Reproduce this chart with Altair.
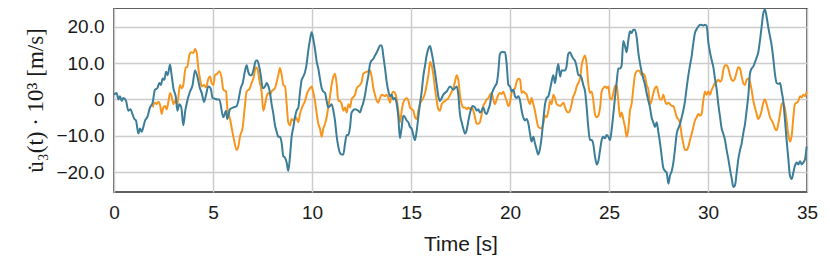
import altair as alt
import pandas as pd

# (time [s], value) samples
TEAL = [
(0.00,1.3),(0.13,1.8),(0.22,0.0),(0.30,0.9),(0.39,-0.4),(0.47,0.4),(0.61,-0.4),(0.72,-3.1),(0.84,-2.7),(0.93,-4.0),(1.03,-5.4),(1.11,-5.8),(1.23,-9.4),(1.31,-8.0),(1.40,-8.9),(1.48,-7.6),(1.57,-5.8),(1.68,-4.9),(1.82,-2.2),(1.95,-0.9),(2.07,2.7),(2.19,3.1),(2.29,4.5),(2.37,4.0),(2.46,5.8),(2.54,5.4),(2.63,7.6),(2.71,6.7),(2.83,9.6),(2.91,6.7),(3.00,3.1),(3.13,0.4),(3.20,-3.1),(3.30,-1.3),(3.40,-2.2),(3.50,-7.1),(3.60,-3.1),(3.70,-0.4),(3.84,2.2),(3.97,4.0),(4.09,8.0),(4.21,6.3),(4.34,3.1),(4.43,1.8),(4.55,-0.7),(4.65,1.3),(4.76,3.6),(4.88,3.1),(4.98,0.4),(5.10,0.2),(5.22,0.0),(5.32,0.0),
(5.52,-4.9),(5.66,-3.1),(5.72,-5.4),(5.86,-2.7),(6.03,-2.2),(6.20,-1.8),(6.28,-0.4),(6.40,3.1),(6.50,4.5),(6.62,8.0),(6.70,9.4),(6.78,7.6),(6.87,6.7),(6.95,6.7),(7.04,8.0),(7.17,10.7),(7.24,10.7),(7.34,8.9),(7.41,6.7),(7.51,3.1),(7.63,3.6),(7.71,4.5),(7.80,3.6),(7.88,1.8),(7.96,-1.3),(8.05,-4.0),(8.13,-7.1),(8.22,-8.9),(8.30,-10.3),(8.38,-10.3),(8.47,-12.1),(8.55,-15.6),(8.64,-16.1),(8.72,-17.4),(8.80,-19.7),(8.89,-15.6),(8.97,-10.3),(9.06,-7.6),(9.14,-4.9),(9.22,-3.1),(9.31,-2.2),(9.39,1.8),(9.48,5.4),(9.56,6.3),(9.65,7.6),(9.73,9.8),(9.81,13.4),(9.90,16.5),(9.98,18.5),(10.07,16.5),(10.15,13.9),(10.24,10.3),(10.32,8.5),(10.40,5.8),(10.49,3.1),(10.57,2.2),(10.66,1.8),(10.74,-0.4),(10.82,-2.2),(10.91,-1.8),(10.99,-1.3),(11.08,-3.1),(11.16,-5.8),(11.25,-10.3),(11.33,-13.0),
(11.41,-14.7),(11.50,-15.2),(11.58,-15.2),(11.67,-12.1),(11.75,-9.8),(11.84,-9.8),(11.92,-7.6),(12.00,-3.6),(12.17,-2.7),(12.34,-3.1),(12.42,-3.6),(12.51,-2.2),(12.59,-0.9),(12.68,1.3),(12.76,4.0),(12.85,6.7),(12.93,9.8),(13.01,10.7),(13.10,11.2),(13.18,12.1),(13.27,13.0),(13.35,13.9),(13.43,14.9),(13.52,14.9),(13.60,12.1),(13.69,8.5),(13.77,4.9),(13.86,2.2),(13.94,0.9),(14.02,1.3),(14.11,0.0),(14.19,0.4),(14.28,-1.3),(14.36,-4.9),(14.44,-10.7),(14.53,-7.6),(14.61,-4.5),(14.70,-4.9),(14.78,-5.8),(14.87,-6.3),(14.95,-7.6),(15.03,-8.0),(15.12,-9.8),(15.20,-11.2),(15.29,-8.5),(15.37,-4.9),(15.45,-1.3),(15.54,2.2),(15.62,6.3),(15.71,9.4),(15.79,12.1),(15.88,14.0),(15.96,14.7),(16.04,13.0),(16.13,10.3),(16.21,7.6),(16.30,4.0),(16.38,0.9),(16.46,-0.4),(16.55,0.4),(16.63,1.3),(16.72,1.8),(16.80,2.2),(16.97,3.6),(17.14,2.7),(17.31,3.6),(17.39,1.3),(17.47,-4.0),(17.56,-6.3),(17.64,-8.0),(17.73,-9.4),
(17.81,-8.5),(17.90,-5.8),(18.01,-3.1),(18.11,-1.8),(18.23,-2.2),(18.32,-3.1),(18.40,-2.7),(18.48,-3.6),(18.57,-3.1),(18.65,-2.2),(18.74,-3.6),(18.82,-4.0),(18.91,-2.7),(18.99,-1.3),(19.07,1.3),(19.16,2.7),(19.24,3.6),(19.33,4.5),(19.41,7.6),(19.49,12.5),(19.58,13.1),(19.75,13.0),(19.83,9.8),(19.92,4.0),(20.00,3.6),(20.08,2.2),(20.17,2.7),(20.25,0.9),(20.34,0.4),(20.42,0.9),(20.51,-0.4),(20.59,-3.1),(20.67,-4.9),(20.76,-5.8),(20.84,-5.4),(20.93,-6.7),(21.01,-9.4),(21.09,-11.6),(21.18,-10.3),(21.26,-12.1),(21.35,-13.9),(21.43,-15.2),(21.52,-13.4),(21.60,-10.3),(21.68,-5.8),(21.77,-1.3),(21.85,0.4),(21.94,0.9),(22.02,2.7),(22.10,4.9),(22.19,6.7),(22.27,4.5),(22.36,7.6),(22.44,9.8),(22.53,6.3),(22.61,8.0),(22.78,8.0),(22.85,8.9),(22.94,12.5),(23.03,13.0),(23.11,12.1),(23.20,11.2),(23.28,10.7),(23.37,8.9),(23.45,6.7),(23.54,6.7),(23.62,5.8),(23.70,4.0),(23.79,2.2),(23.87,-2.0),(23.96,-8.0),(24.04,-11.2),
(24.12,-11.2),(24.20,-12.1),(24.29,-15.6),(24.38,-17.9),(24.46,-17.0),(24.55,-13.9),(24.63,-11.2),(24.71,-10.3),(24.80,-10.7),(24.88,-9.8),(24.97,-10.3),(25.05,-11.2),(25.13,-8.5),(25.22,-4.0),(25.30,0.4),(25.39,4.9),(25.47,8.5),(25.56,8.5),(25.64,9.4),(25.72,16.1),(25.81,14.7),(25.89,13.0),(25.98,16.5),(26.06,18.8),(26.14,18.3),(26.23,19.2),(26.31,19.2),(26.40,17.0),(26.48,13.0),(26.57,9.8),(26.65,7.6),(26.73,5.8),(26.82,4.0),(26.90,1.8),(26.99,-0.4),(27.07,-2.2),(27.15,-4.9),(27.24,-6.3),(27.32,-7.6),(27.41,-6.3),(27.49,-8.9),(27.58,-12.1),(27.66,-15.6),(27.74,-18.8),(27.83,-19.7),(27.91,-20.1),(28.00,-23.2),(28.08,-21.0),(28.17,-19.7),(28.25,-17.4),(28.33,-13.9),(28.42,-9.4),(28.50,-8.0),(28.59,-6.7),(28.67,-4.9),(28.75,-3.1),(28.84,-0.4),(28.92,3.1),(29.01,6.7),(29.09,9.4),(29.18,12.1),(29.26,15.6),(29.34,18.3),(29.43,19.4),(29.51,20.1),
(29.60,20.6),(29.76,20.4),(29.85,20.6),(29.93,20.3),(30.02,15.6),(30.10,13.0),(30.19,10.7),(30.27,8.9),(30.35,5.8),(30.44,2.7),(30.52,-1.3),(30.61,-4.9),(30.69,-8.0),(30.77,-9.4),(30.86,-11.2),(30.94,-13.9),(31.03,-16.5),(31.11,-19.2),(31.20,-21.9),(31.28,-24.1),(31.36,-23.7),(31.45,-20.1),(31.53,-16.5),(31.62,-13.9),(31.70,-12.1),(31.78,-9.4),(31.87,-6.7),(31.95,-3.1),(32.04,1.3),(32.12,7.1),(32.20,8.5),(32.29,9.1),(32.37,10.3),(32.46,11.6),(32.54,13.0),(32.63,16.5),(32.71,20.1),(32.79,23.7),(32.88,24.8),(32.96,22.8),(33.05,19.7),(33.13,17.4),(33.22,14.7),(33.30,11.2),(33.38,7.1),(33.47,4.5),(33.55,4.3),(33.64,4.5),(33.72,2.2),(33.80,-0.4),(33.89,-5.8),(33.97,-11.2),(34.06,-16.5),(34.14,-21.0),(34.23,-21.9),(34.31,-20.1),(34.39,-18.3),(34.48,-17.4),(34.56,-17.9),(34.65,-17.0),(34.73,-17.9),(34.81,-17.4),(34.90,-16.5),(34.98,-13.0),
]

ORANGE = [
(1.95,-2.2),(2.07,-0.9),(2.15,-1.3),(2.24,-0.6),(2.32,-1.3),(2.41,-4.0),(2.49,-2.2),(2.58,-1.8),(2.66,-2.7),(2.74,-0.9),(2.83,1.8),(2.91,0.9),(3.00,-1.3),(3.08,-0.4),(3.20,-1.3),(3.33,4.0),(3.42,3.1),(3.50,4.0),(3.62,8.9),(3.70,8.9),(3.80,12.1),(3.89,13.0),(4.01,12.8),(4.09,13.9),(4.18,12.8),(4.26,8.5),(4.34,5.8),(4.43,3.6),(4.55,4.0),(4.65,3.3),(4.76,5.6),(4.85,6.3),(4.93,4.5),(5.02,4.0),(5.10,6.7),(5.22,7.1),(5.32,7.8),
(5.44,5.8),(5.52,2.7),(5.66,2.2),(5.72,-2.2),(5.86,-5.4),(6.03,-10.3),(6.20,-13.9),(6.28,-13.0),(6.36,-10.3),(6.50,-7.6),(6.62,-1.3),(6.70,2.2),(6.84,2.9),(6.95,4.5),(7.04,5.8),(7.17,8.9),(7.24,8.5),(7.34,5.4),(7.46,1.8),(7.54,-3.1),(7.63,-1.3),(7.71,0.9),(7.80,1.8),(7.88,1.3),(7.96,2.2),(8.05,2.7),(8.13,3.1),(8.22,4.9),(8.30,6.7),(8.38,8.7),(8.47,6.7),(8.55,4.0),(8.64,3.6),(8.72,-1.3),(8.80,-6.3),(8.89,-7.1),(8.97,-5.4),(9.06,-5.8),(9.19,-4.9),(9.31,-6.3),(9.39,-4.0),(9.53,-1.8),(9.65,-0.4),(9.76,1.8),(9.90,3.1),(9.98,3.6),(10.07,1.8),(10.15,-0.4),(10.24,-4.0),(10.32,-6.7),(10.40,-8.0),(10.49,-10.3),(10.57,-8.0),(10.66,-6.7),(10.74,-4.9),(10.82,-2.2),(10.91,0.9),(10.99,4.0),(11.08,6.3),(11.16,7.1),(11.25,4.0),(11.33,-0.4),
(11.41,-0.4),(11.50,-1.3),(11.58,-3.1),(11.67,-2.2),(11.75,-3.6),(11.84,-1.3),(11.92,-2.2),(12.00,0.0),(12.17,1.3),(12.26,3.1),(12.42,4.0),(12.51,4.9),(12.59,7.1),(12.76,7.6),(12.93,8.0),(13.01,6.3),(13.10,3.1),(13.18,1.3),(13.27,-0.4),(13.35,-0.9),(13.43,0.4),(13.52,1.3),(13.69,0.9),(13.77,1.3),(13.86,0.4),(13.94,-0.9),(14.02,1.3),(14.11,2.1),(14.19,1.8),(14.28,0.0),(14.36,-3.1),(14.44,-6.3),(14.53,-3.1),(14.61,-0.9),(14.78,0.3),(14.87,-0.4),(14.95,-2.2),(15.12,-3.1),(15.20,-4.9),(15.29,-5.4),(15.37,-3.1),(15.45,-1.3),(15.62,0.4),(15.71,1.8),(15.79,4.0),(15.88,6.7),(15.96,10.3),(16.04,9.4),(16.13,6.7),(16.21,3.1),(16.30,-0.4),(16.38,-2.7),(16.46,-3.1),(16.55,-1.3),(16.72,-0.4),(16.89,0.4),(17.06,2.2),(17.14,3.1),(17.22,4.9),(17.31,6.7),(17.39,5.4),(17.47,1.3),(17.56,-1.3),(17.64,-2.2),
(17.73,-2.2),(17.81,-2.7),(17.90,-2.2),(17.98,-2.7),(18.06,-2.2),(18.15,-3.1),(18.23,-4.9),(18.32,-6.7),(18.40,-6.7),(18.48,-6.3),(18.57,-4.0),(18.65,-1.8),(18.74,-0.9),(18.82,0.0),(18.91,0.4),(18.99,1.3),(19.07,1.8),(19.16,0.0),(19.24,-1.3),(19.33,0.0),(19.41,1.3),(19.49,1.8),(19.58,1.5),(19.66,2.1),(19.75,0.9),(19.83,-0.4),(19.92,-1.8),(20.00,-0.9),(20.08,1.8),(20.17,2.7),(20.25,3.1),(20.34,4.9),(20.42,5.8),(20.51,5.4),(20.59,1.8),(20.67,2.2),(20.76,1.8),(20.84,1.3),(20.93,-0.4),(21.01,-1.3),(21.09,0.4),(21.18,-1.3),(21.26,-3.1),(21.35,-5.8),(21.43,-7.6),(21.60,-8.0),(21.68,-6.7),(21.77,-4.5),(21.85,-4.9),(21.94,-3.1),(22.02,-0.4),(22.10,-1.3),(22.19,1.3),(22.27,0.4),(22.36,-1.3),(22.53,-1.8),(22.70,-0.9),(22.78,-2.2),(22.85,-3.1),(22.94,-3.6),(23.03,-3.1),(23.11,-1.3),(23.20,0.9),(23.28,1.8),(23.37,3.6),(23.45,4.5),(23.54,5.8),(23.62,9.4),(23.70,11.2),(23.79,12.1),(23.87,9.8),(23.96,4.0),(24.04,1.8),
(24.12,2.2),(24.20,0.0),(24.29,-4.0),(24.38,-4.9),(24.46,-4.5),(24.55,-2.2),(24.63,2.2),(24.71,3.1),(24.80,3.6),(24.88,3.1),(24.97,3.6),(25.05,0.4),(25.13,0.0),(25.22,1.8),(25.30,3.6),(25.39,4.0),(25.47,-0.4),(25.56,-4.9),(25.64,-3.6),(25.72,-5.4),(25.81,-7.6),(25.89,-10.3),(25.98,-8.0),(26.06,-3.1),(26.14,-1.3),(26.23,3.1),(26.31,6.7),(26.40,7.8),(26.48,8.0),(26.57,7.6),(26.65,6.7),(26.73,7.1),(26.82,6.3),(26.90,4.0),(26.99,2.7),(27.07,-1.3),(27.15,-0.4),(27.24,1.8),(27.32,3.1),(27.41,3.6),(27.49,1.8),(27.58,0.0),(27.66,0.0),(27.74,1.3),(27.83,-0.4),(27.91,-1.3),(28.00,-0.9),(28.08,-1.3),(28.17,-1.8),(28.25,-1.8),(28.33,-3.1),(28.42,-4.9),(28.50,-5.4),(28.59,-6.7),(28.67,-9.8),(28.75,-12.1),(28.84,-13.9),(28.92,-13.9),(29.01,-13.0),(29.09,-11.2),(29.18,-9.4),(29.26,-7.6),(29.34,-5.8),(29.43,-4.9),(29.51,-4.0),
(29.60,-4.5),(29.68,-4.0),(29.76,-0.4),(29.85,2.2),(29.93,1.3),(30.02,2.2),(30.10,1.3),(30.19,2.7),(30.27,3.6),(30.35,4.5),(30.44,4.9),(30.52,5.4),(30.61,4.9),(30.69,5.4),(30.77,8.0),(30.86,9.4),(30.94,9.4),(31.03,8.5),(31.11,6.7),(31.20,5.4),(31.28,5.1),(31.36,5.8),(31.45,7.6),(31.53,8.9),(31.62,8.5),(31.70,6.3),(31.78,4.5),(31.87,4.0),(31.95,5.4),(32.04,5.8),(32.12,4.9),(32.20,2.7),(32.29,-0.4),(32.37,-2.2),(32.46,-4.0),(32.54,-5.4),(32.63,-4.5),(32.71,-3.1),(32.79,-0.9),(32.88,0.0),(32.96,-1.3),(33.05,-3.1),(33.13,-4.9),(33.22,-5.8),(33.30,-6.7),(33.38,-8.0),(33.47,-8.5),(33.55,-6.7),(33.64,-4.0),(33.72,-1.3),(33.80,-0.9),(33.89,-2.7),(33.97,-5.8),(34.06,-9.8),(34.14,-11.6),(34.23,-9.8),(34.31,-4.9),(34.39,-1.3),(34.48,-0.9),(34.56,-0.4),(34.65,0.9),(34.73,0.6),(34.81,1.3),(34.90,0.9),(34.98,2.1),
]

X_TICKS = [0, 5, 10, 15, 20, 25, 30, 35]
Y_TICKS = [-20, -10, 0, 10, 20]
X_TITLE = "Time [s]"
Y_TITLE = "u\u0307\u2083(t) \u00b7 10\u00b3 [m/s]"
TEAL_COLOR = "#3c7d98"
ORANGE_COLOR = "#f7961f"

teal_df = pd.DataFrame(TEAL, columns=["t", "v"])
orange_df = pd.DataFrame(ORANGE, columns=["t", "v"])

x_enc = alt.X(
    "t:Q",
    scale=alt.Scale(domain=[0, 35], nice=False, zero=False),
    axis=alt.Axis(values=X_TICKS, format="d", title=X_TITLE, labelFlush=False,
                  labelFontSize=19, labelPadding=11, titlePadding=11, titleFontSize=21),
)
y_enc = alt.Y(
    "v:Q",
    scale=alt.Scale(domain=[-25.5, 25.2], nice=False, zero=False),
    axis=alt.Axis(values=Y_TICKS, labelFlush=False,
                  labelExpr="datum.value == 0 ? '0' : format(datum.value, '.1f')",
                  title=Y_TITLE, titleFont="Liberation Serif", titleFontSize=23,
                  labelFontSize=19, labelPadding=10, titlePadding=8),
)

orange_line = alt.Chart(orange_df).mark_line(
    color=ORANGE_COLOR, strokeWidth=2, interpolate="monotone"
).encode(x=x_enc, y=y_enc)

teal_line = alt.Chart(teal_df).mark_line(
    color=TEAL_COLOR, strokeWidth=2, interpolate="monotone"
).encode(x=x_enc, y=y_enc)

chart = (
    alt.layer(orange_line, teal_line)
    .properties(
        width=693,
        height=184,
        autosize=alt.AutoSizeParams(type="none"),
        padding={"left": 106, "top": 0, "right": 15, "bottom": 72},
    )
    .configure_view(stroke="#2b2b2b", strokeWidth=1.5)
    .configure_axis(
        domain=False,
        ticks=False,
        grid=True,
        gridColor="#cccccc",
        gridWidth=1.5,
        labelFont="Liberation Sans",
        labelColor="#1a1a1a",
        titleFont="Liberation Sans",
        titleFontWeight="normal",
        titleColor="#1a1a1a",
    )
)

chart.save("out.html", embed_options={"renderer": "svg", "actions": False})
